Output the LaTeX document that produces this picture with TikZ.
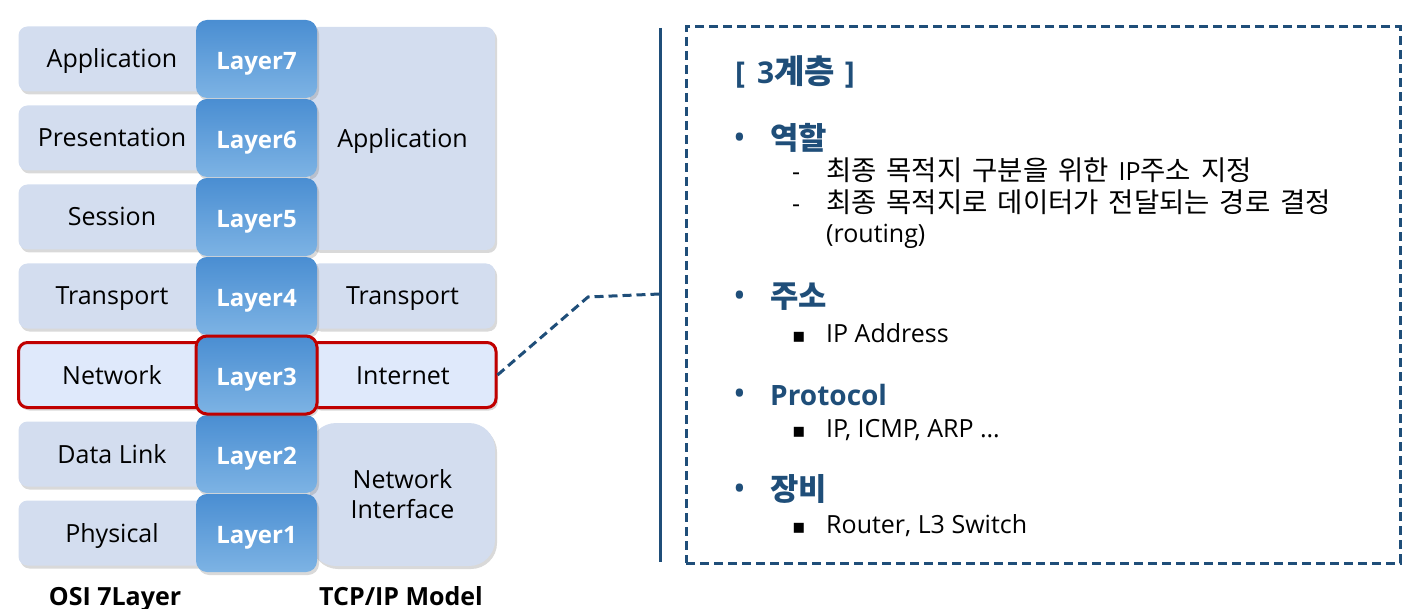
\documentclass[tikz,border=0pt]{standalone}
\usepackage{fontspec}
\setmainfont{Open Sans}
\newfontfamily\kr{Noto Sans CJK KR}[Scale=1.1, WordSpace=1.6]
\newfontfamily\symfont{DejaVu Sans}
\usetikzlibrary{shadows}
\definecolor{osigray}{HTML}{D3DDEF}
\definecolor{netfill}{HTML}{DFE9FB}
\definecolor{laytop}{HTML}{4A8ED2}
\definecolor{laybot}{HTML}{7DB3E4}
\definecolor{hlred}{HTML}{C00000}
\definecolor{navy}{HTML}{1F4E79}

\begin{document}
\begin{tikzpicture}[x=1pt, y=-1pt,
    rowbox/.style={fill=osigray, rounded corners=9pt, inner sep=0pt,
        minimum height=65pt, text height=18pt, text depth=0pt,
        font=\fontsize{25}{30}\selectfont,
        drop shadow={shadow xshift=2pt, shadow yshift=-3pt, opacity=0.3}},
    hlrow/.style={fill=netfill, draw=hlred, line width=3pt},
    laybox/.style={top color=laytop, bottom color=laybot, rounded corners=11pt,
        minimum width=121pt, minimum height=78pt, text=white, inner sep=0pt,
        text height=21pt, text depth=0pt,
        font=\bfseries\fontsize{24}{28}\selectfont,
        drop shadow={shadow xshift=2pt, shadow yshift=-3pt, opacity=0.3}},
    infohead/.style={anchor=base west, inner sep=0pt, text=navy,
        font=\bfseries\fontsize{28}{32}\selectfont},
    infoitem/.style={anchor=base west, inner sep=0pt, font=\fontsize{25}{30}\selectfont},
    dotsym/.style={anchor=base west, inner sep=0pt, text=navy, font=\fontsize{34}{40}\selectfont},
    sqsym/.style={anchor=base west, inner sep=0pt, font=\symfont\fontsize{20}{24}\selectfont}]
\useasboundingbox (0,0) rectangle (1420,609);

% OSI 7 layer boxes (left)
\foreach \i/\name in {7/Application, 6/Presentation, 5/Session, 4/Transport, 2/Data Link, 1/Physical} {
    \node[rowbox, minimum width=187pt] (osi\i) at (112, {533-79*(\i-1)}) {\name};
}
\node[rowbox, hlrow, minimum width=187pt] (osi3) at (112,375) {Network};

% TCP/IP model boxes (right)
\node[rowbox, minimum width=185pt, minimum height=223pt] (tcpapp) at (402.5,138.5) {Application};
\node[rowbox, minimum width=185pt] (tcptrans) at (402.5,296) {Transport};
\node[rowbox, hlrow, minimum width=186pt] (tcpnet) at (403,375) {Internet};
\node[rowbox, rounded corners=26pt, minimum width=185pt, minimum height=143pt, align=center,
    text height=48pt] (tcpnif) at (402.5,494.5) {Network\\Interface};

% Layer numbers
\foreach \i in {7,6,5,4,2,1} {
    \node[laybox] (lay\i) at (256.5, {533-79*(\i-1)}) {Layer\i};
}
\node[laybox, draw=hlred, line width=3pt] (lay3) at (256.5,375) {Layer3};

% Model titles
\node[font=\bfseries\fontsize{25}{30}\selectfont, anchor=base] (ositi) at (115,605) {OSI 7Layer};
\node[font=\bfseries\fontsize{25}{30}\selectfont, anchor=base] (tcpti) at (401,605) {TCP/IP Model};

% Link to the detail panel
\coordinate (kink) at (588,297);
\coordinate (vtop) at (660,28);
\coordinate (vbot) at (660,562);
\coordinate (vmid) at (660,294);
\draw[navy, line width=3pt] (vtop) -- (vbot);
\draw[navy, line width=3pt, dash pattern=on 9pt off 5pt] (tcpnet.east) -- (kink) -- (vmid);

% Detail panel
\node[draw=navy, line width=3pt, dash pattern=on 9pt off 5pt, minimum width=714pt,
    minimum height=536pt, inner sep=0pt] (infobox) at (1043,295) {};
\node[infohead, font=\bfseries\fontsize{30}{34}\selectfont] (title) at (735,84)
    {[\hspace{12pt}3{\kr 계층}\hspace{10pt}]};

\foreach \yb/\nm in {150/role, 307/addr, 405/proto, 500/equip} {
    \node[dotsym] (b\nm) at (733,\yb) {•};
}
\node[infohead] (role) at (770,150) {\kr 역할};
\node[infohead] (addr) at (770,307) {\kr 주소};
\node[infohead] (proto) at (770,405) {Protocol};
\node[infohead] (equip) at (770,500) {\kr 장비};

% Sub items
\node[infoitem] (dash1) at (792,181) {-};
\node[infoitem] (dash2) at (792,213) {-};
\node[infoitem] (role1) at (826,181) {\kr 최종 목적지 구분을 위한 \normalfont IP\kr 주소 지정};
\node[infoitem] (role2) at (826,213) {\kr 최종 목적지로 데이터가 전달되는 경로 결정};
\node[infoitem] (role3) at (826,243) {(routing)};

\foreach \yb/\nm in {342/addr, 437/proto, 533/equip} {
    \node[sqsym] (sq\nm) at (792,\yb) {▪};
}
\node[infoitem] (addr1) at (826,342) {IP Address};
\node[infoitem] (proto1) at (826,437) {IP, ICMP, ARP …};
\node[infoitem] (equip1) at (826,533) {Router, L3 Switch};
\end{tikzpicture}
\end{document}
